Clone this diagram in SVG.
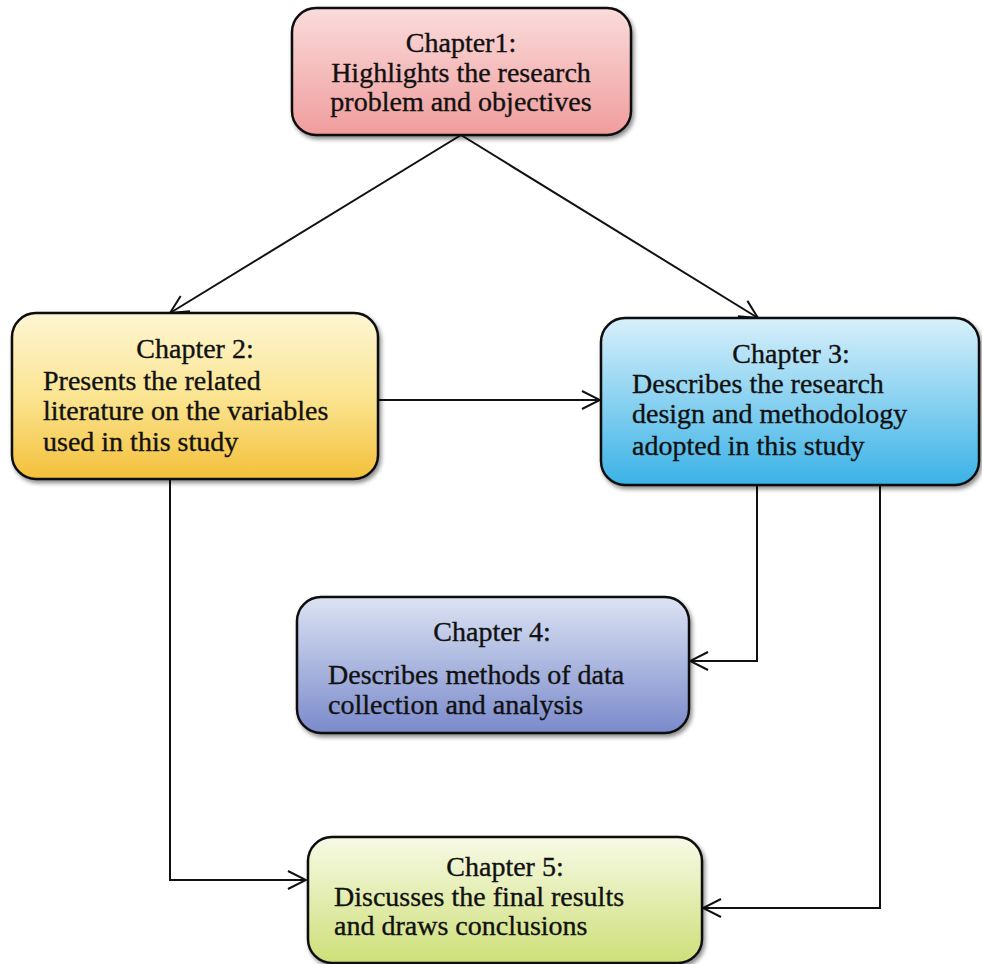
<svg xmlns="http://www.w3.org/2000/svg" width="982" height="964" viewBox="0 0 982 964">
<defs>
<style>
.box{stroke:#111;stroke-width:2.5;filter:url(#sh)}
.t{font-family:"Liberation Serif","Times New Roman",serif;font-size:28px;fill:#111;stroke:#111;stroke-width:0.35}
.c{text-anchor:middle}
.ln{fill:none;stroke:#111;stroke-width:2}
</style>
<filter id="sh" x="-5%" y="-5%" width="115%" height="120%">
<feDropShadow dx="2" dy="3" stdDeviation="2" flood-color="#000" flood-opacity="0.45"/>
</filter>
<linearGradient id="g1" x1="0" y1="0" x2="0" y2="1"><stop offset="0" stop-color="#fadcdc"/><stop offset="1" stop-color="#f09c9c"/></linearGradient>
<linearGradient id="g2" x1="0" y1="0" x2="0" y2="1"><stop offset="0" stop-color="#fdf6d4"/><stop offset="0.5" stop-color="#fbe592"/><stop offset="1" stop-color="#f3c03a"/></linearGradient>
<linearGradient id="g3" x1="0" y1="0" x2="0" y2="1"><stop offset="0" stop-color="#d8f0fb"/><stop offset="1" stop-color="#3ab2e6"/></linearGradient>
<linearGradient id="g4" x1="0" y1="0" x2="0" y2="1"><stop offset="0" stop-color="#dce3f3"/><stop offset="1" stop-color="#7a8acb"/></linearGradient>
<linearGradient id="g5" x1="0" y1="0" x2="0" y2="1"><stop offset="0" stop-color="#f8fae6"/><stop offset="1" stop-color="#cddf78"/></linearGradient>
<marker id="ar" viewBox="0 0 22 22" refX="20" refY="11" markerWidth="22" markerHeight="22" markerUnits="userSpaceOnUse" orient="auto">
<path d="M2,2 L20,11 L2,20" fill="none" stroke="#111" stroke-width="2"/>
</marker>
</defs>
<rect width="982" height="964" fill="#fff"/>
<g id="connectors">
<line class="ln" x1="461" y1="135" x2="170" y2="313" marker-end="url(#ar)"/>
<line class="ln" x1="461" y1="135" x2="758" y2="318" marker-end="url(#ar)"/>
<line class="ln" x1="378" y1="400" x2="600" y2="400" marker-end="url(#ar)"/>
<polyline class="ln" points="757,486 757,661 690,661" marker-end="url(#ar)"/>
<polyline class="ln" points="170,480 170,880 306,880" marker-end="url(#ar)"/>
<polyline class="ln" points="880,486 880,908 703,908" marker-end="url(#ar)"/>
</g>
<g id="ch1">
<rect class="box" x="292" y="8" width="339" height="127" rx="24" fill="url(#g1)"/>
<text class="t c" x="461" y="52">Chapter1:</text>
<text class="t c" x="461" y="82">Highlights the research</text>
<text class="t c" x="461" y="111">problem and objectives</text>
</g>
<g id="ch2">
<rect class="box" x="12" y="313" width="366" height="166" rx="24" fill="url(#g2)"/>
<text class="t c" x="195" y="358">Chapter 2:</text>
<text class="t" x="43" y="390">Presents the related</text>
<text class="t" x="43" y="420">literature on the variables</text>
<text class="t" x="43" y="451">used in this study</text>
</g>
<g id="ch3">
<rect class="box" x="601" y="318" width="378" height="167" rx="24" fill="url(#g3)"/>
<text class="t c" x="791" y="363">Chapter 3:</text>
<text class="t" x="632" y="393">Describes the research</text>
<text class="t" x="632" y="423">design and methodology</text>
<text class="t" x="632" y="455">adopted in this study</text>
</g>
<g id="ch4">
<rect class="box" x="297" y="597" width="392" height="136" rx="24" fill="url(#g4)"/>
<text class="t c" x="492" y="641">Chapter 4:</text>
<text class="t" x="328" y="684">Describes methods of data</text>
<text class="t" x="328" y="714">collection and analysis</text>
</g>
<g id="ch5">
<rect class="box" x="308" y="837" width="394" height="126" rx="24" fill="url(#g5)"/>
<text class="t c" x="505" y="876">Chapter 5:</text>
<text class="t" x="334" y="906">Discusses the final results</text>
<text class="t" x="334" y="935">and draws conclusions</text>
</g>
</svg>
